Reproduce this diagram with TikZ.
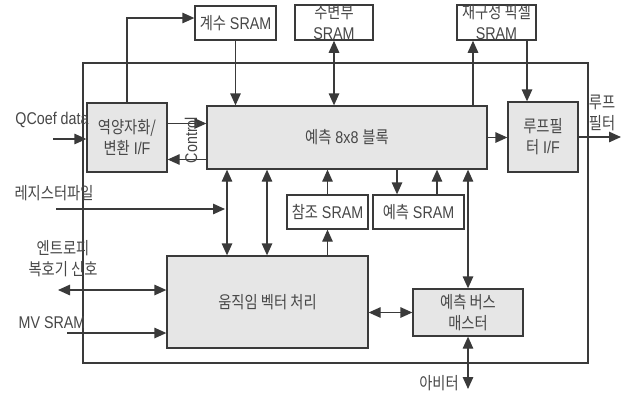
\documentclass[tikz,border=0pt]{standalone}
\usepackage{fontspec}
\setmainfont{Liberation Sans}[FakeStretch=0.84]
\newfontfamily\K{Noto Sans CJK KR}[FakeStretch=0.84]
\usetikzlibrary{arrows.meta}
\definecolor{ln}{HTML}{3A3A3A}
\definecolor{tx}{HTML}{474747}
\definecolor{fl}{HTML}{E6E6E6}
\begin{document}
\begin{tikzpicture}[x=1pt,y=-1pt,
 every node/.style={text=tx,font=\fontsize{17}{21}\selectfont},
 blk/.style={draw=ln,line width=1.3pt,fill=fl,align=center,inner sep=0pt},
 sram/.style={draw=ln,line width=1.3pt,fill=white,align=center,inner sep=0pt},
 arr/.style={draw=ln,line width=1.3pt,-{Triangle[length=12pt,width=10.5pt]}},
 darr/.style={draw=ln,line width=1.3pt,{Triangle[length=12pt,width=10.5pt]}-{Triangle[length=12pt,width=10.5pt]}},
 lbl/.style={align=center,inner sep=0pt}]
\useasboundingbox[fill=white] (0,0) rectangle (624,394);
% helper coordinates
\coordinate (x227) at (227,0);
\coordinate (x267) at (267,0);
\coordinate (x397) at (397,0);
\coordinate (x437) at (437,0);
\coordinate (x473) at (473,0);
\coordinate (x527) at (527,0);
\coordinate (lout) at (621,137);
\coordinate (qin) at (53,139);
\coordinate (regin) at (56,209);
\coordinate (entin) at (58,290);
\coordinate (mvin) at (67,333);
\coordinate (arb) at (468,389);
% frame
\node[draw=ln,line width=1.3pt,minimum width=505pt,minimum height=300pt,inner sep=0pt] (frame) at (335.5,213) {};
% boxes
\node[sram,minimum width=81pt,minimum height=34pt] (coef) at (235.5,23) {{\K 계수} SRAM};
\node[sram,minimum width=78pt,minimum height=35pt] (sur) at (334,22.5) {{\K 주변부}\\SRAM};
\node[sram,minimum width=79pt,minimum height=35pt] (rec) at (496.5,22.5) {{\K 재구성 픽셀}\\SRAM};
\node[blk,minimum width=80pt,minimum height=69pt] (deq) at (127,137.5) {{\K 역양자화/}\\{\K 변환} I/F};
\node[blk,minimum width=280pt,minimum height=63pt] (pred) at (347,137.5) {{\K 예측} 8x8 {\K 블록}};
\node[blk,minimum width=70pt,minimum height=70pt] (loop) at (543,137) {{\K 루프필}\\{\K 터} I/F};
\node[sram,minimum width=81pt,minimum height=34pt] (ref) at (327.5,212) {{\K 참조} SRAM};
\node[sram,minimum width=91pt,minimum height=34pt] (psram) at (418.5,212) {{\K 예측} SRAM};
\node[blk,minimum width=201pt,minimum height=92pt] (mv) at (267.5,302) {\K 움직임 벡터 처리};
\node[blk,minimum width=110pt,minimum height=47pt] (bus) at (468,312.5) {{\K 예측 버스}\\{\K 매스터}};
% connectors
\draw[arr] (deq.north) |- ([yshift=5pt]coef.west);
\draw[arr] (coef.south) -- (coef.south |- pred.north);
\draw[darr] (sur.south) -- (sur.south |- pred.north);
\draw[arr] (pred.north -| x473) -- (rec.south -| x473);
\draw[arr] (rec.south -| x527) -- (loop.north -| x527);
\draw[arr] (pred.east) -- (pred.east -| loop.west);
\draw[arr] (loop.east) -- (lout);
\draw[arr] ([yshift=14pt]deq.east) -- ([yshift=14pt]deq.east -| pred.west);
\draw[arr] ([yshift=-22pt]pred.west) -- ([yshift=-22pt]pred.west -| deq.east);
\draw[arr] (qin) -- (qin -| deq.west);
\draw[darr] (mv.north -| x227) -- (pred.south -| x227);
\draw[darr] (mv.north -| x267) -- (pred.south -| x267);
\draw[arr,shorten >=2pt] (regin) -- (regin -| x227);
\draw[darr] (entin) -- (entin -| mv.west);
\draw[arr] (mvin) -- (mvin -| mv.west);
\draw[arr] (mv.north -| ref.south) -- (ref.south);
\draw[arr] (ref.north) -- (ref.north |- pred.south);
\draw[arr] (pred.south -| x397) -- (psram.north -| x397);
\draw[arr] (psram.north -| x437) -- (pred.south -| x437);
\draw[darr] (pred.south -| bus.north) -- (bus.north);
\draw[darr] (bus.west -| mv.east) -- (bus.west);
\draw[darr] (bus.south) -- (arb);
% labels
\node[rotate=90,inner sep=0pt] (ctl) at (191,140) {Control};
\node[lbl] (qlab) at (52,120) {QCoef data};
\node[lbl] (reglab) at (54,193) {\K 레지스터파일};
\node[lbl] (entlab) at (63,259) {{\K 엔트로피}\\{\K 복호기 신호}};
\node[lbl] (mvlab) at (52,323) {MV SRAM};
\node[lbl] (looplab) at (602,113) {{\K 루프}\\{\K 필터}};
\node[lbl] (arblab) at (439,383) {\K 아비터};
\end{tikzpicture}
\end{document}
